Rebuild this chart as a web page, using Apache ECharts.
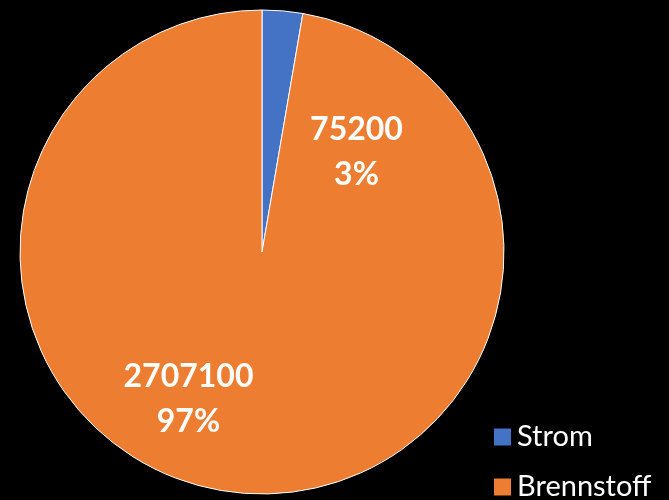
<!DOCTYPE html>
<html>
<head>
<meta charset="utf-8">
<script src="https://cdn.jsdelivr.net/npm/echarts@6/dist/echarts.min.js"></script>
<style>
html,body{margin:0;padding:0;background:#000;}
#c{width:669px;height:500px;}
</style>
</head>
<body>
<div id="c"></div>
<script>
const categories = ['Strom', 'Brennstoff'];
const values = [75200, 2707100];
const colors = ['#4472C4', '#ED7D31'];
const labelOffsets = [[84, 24], [-63, 24]];

const legendTops = [422, 472];
const chart = echarts.init(document.getElementById('c'));
chart.setOption({
  backgroundColor: '#000',
  animation: false,
  legend: categories.map((n, i) => ({
    orient: 'vertical',
    left: 494,
    top: legendTops[i],
    padding: 0,
    itemWidth: 17,
    itemHeight: 17,
    icon: 'rect',
    itemStyle: { borderWidth: 0 },
    textStyle: { color: '#fff', fontFamily: 'Lato', fontSize: 29, lineHeight: 30, padding: [0, 0, 0, 1] },
    data: [n]
  })),
  series: [{
    type: 'pie',
    center: [262, 252],
    radius: 242,
    startAngle: 90,
    clockwise: true,
    itemStyle: { borderColor: '#fff', borderWidth: 1 },
    label: {
      show: true,
      position: 'inside',
      formatter: p => p.value + '\n' + Math.round(p.percent) + '%',
      color: '#fff',
      fontFamily: 'Lato',
      fontWeight: 'bold',
      fontSize: 32,
      lineHeight: 45,
      align: 'center'
    },
    labelLine: { show: false },
    emphasis: { disabled: true },
    data: categories.map((n, i) => ({
      name: n,
      value: values[i],
      itemStyle: { color: colors[i] },
      label: { offset: labelOffsets[i] }
    }))
  }]
});
</script>
</body>
</html>
